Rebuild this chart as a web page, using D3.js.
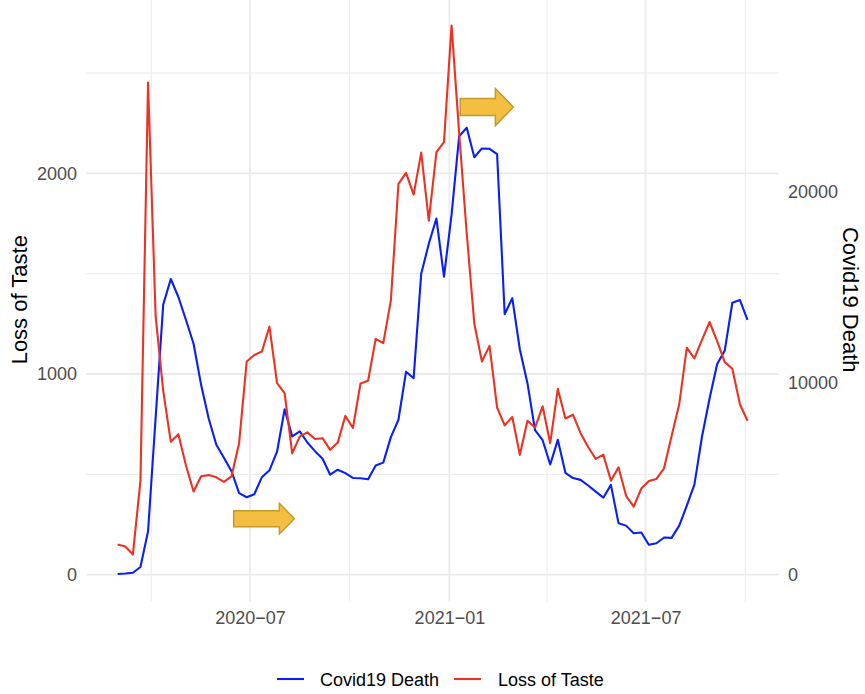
<!DOCTYPE html>
<html>
<head>
<meta charset="utf-8">
<script src="https://cdn.jsdelivr.net/npm/d3@7"></script>
<style>
  body { margin: 0; background: #fff; }
  text { font-family: "Liberation Sans", Arial, Helvetica, sans-serif; }
</style>
</head>
<body>
<script>
var width = 865, height = 694;

// weekly values, 2020-03-01 .. 2021-10-03
var lossOfTaste = [150, 140, 100, 467, 2452, 1288, 916, 662, 700, 544,
  414, 490, 496, 485, 462, 490, 655, 1062, 1095, 1112,
  1236, 955, 904, 604, 689, 709, 676, 680, 622, 658,
  791, 731, 953, 966, 1175, 1154, 1367, 1947, 2002, 1894,
  2103, 1764, 2105, 2156, 2737, 2200, 1700, 1250, 1062, 1140,
  833, 744, 786, 597, 767, 733, 839, 655, 926, 778,
  797, 705, 636, 577, 598, 468, 535, 393, 339, 429,
  467, 477, 530, 691, 849, 1131, 1078, 1170, 1259, 1164,
  1059, 1026, 849, 767];
var covidDeath = [30, 60, 100, 400, 2260, 8200, 14100, 15440, 14500, 13300,
  12060, 9900, 8140, 6780, 6100, 5400, 4260, 4040, 4200, 5090,
  5450, 6420, 8640, 7220, 7480, 6900, 6450, 6050, 5220, 5480,
  5300, 5050, 5035, 4980, 5700, 5850, 7180, 8090, 10600, 10260,
  15720, 17280, 18600, 15560, 18800, 22900, 23340, 21800, 22260, 22240,
  21960, 13600, 14440, 11760, 10000, 7545, 7020, 5750, 7040, 5320,
  5045, 4950, 4655, 4335, 4020, 4690, 2690, 2560, 2160, 2200,
  1560, 1640, 1940, 1920, 2560, 3600, 4700, 7200, 9200, 11000,
  11700, 14200, 14340, 13300];
var weeks = d3.utcWeek.range(new Date(Date.UTC(2020, 2, 1)), new Date(Date.UTC(2021, 9, 4)));

var tasteTicks = [0, 1000, 2000];
var tasteMinor = [500, 1500, 2500];
var deathTicks = [0, 10000, 20000];
var seriesNames = ["Covid19 Death", "Loss of Taste"];
var seriesColors = ["#0a1ff5", "#ea3323"];
var secFactor = 10.48;  // deaths per unit of taste on the secondary axis

// annotation arrows: start date, tip date, taste level
var arrowStarts = ["2020-06-16", "2021-01-11"];
var arrowTips = ["2020-08-11", "2021-03-01"];
var arrowLevels = [279, 2330];

var panel = {left: 86.2, right: 779, top: -2, bottom: 601.5};

var svg = d3.select("body").append("svg")
  .attr("width", width)
  .attr("height", height);

// x scale with 5% expansion like ggplot
var xExt = d3.extent(weeks);
var xPad = (xExt[1] - xExt[0]) * 0.05;
var x = d3.scaleUtc()
  .domain([new Date(+xExt[0] - xPad), new Date(+xExt[1] + xPad)])
  .range([panel.left, panel.right]);

var allVals = lossOfTaste.concat(covidDeath.map(function(d) { return d / secFactor; }));
var yExt = d3.extent(allVals);
var yPad = (yExt[1] - yExt[0]) * 0.05;
var y = d3.scaleLinear()
  .domain([yExt[0] - yPad, yExt[1] + yPad])
  .range([panel.bottom, panel.top]);
var yR = d3.scaleLinear()
  .domain(y.domain().map(function(v) { return v * secFactor; }))
  .range(y.range());

// gridlines: labelled breaks every 6 months, minor ones in between
var quarters = d3.utcMonth.every(3).range(x.domain()[0], x.domain()[1]);
var majorX = quarters.filter(function(d) { return d.getUTCMonth() % 6 === 0; });
var minorX = quarters.filter(function(d) { return d.getUTCMonth() % 6 !== 0; });

var grid = svg.append("g");
grid.selectAll(".hmin").data(tasteMinor).enter().append("line")
  .attr("x1", panel.left).attr("x2", panel.right)
  .attr("y1", y).attr("y2", y)
  .attr("stroke", "#ebebeb").attr("stroke-width", 1);
grid.selectAll(".vmin").data(minorX).enter().append("line")
  .attr("x1", x).attr("x2", x)
  .attr("y1", panel.top).attr("y2", panel.bottom)
  .attr("stroke", "#ebebeb").attr("stroke-width", 1);
grid.selectAll(".hmaj").data(tasteTicks).enter().append("line")
  .attr("x1", panel.left).attr("x2", panel.right)
  .attr("y1", y).attr("y2", y)
  .attr("stroke", "#ebebeb").attr("stroke-width", 1.8);
grid.selectAll(".vmaj").data(majorX).enter().append("line")
  .attr("x1", x).attr("x2", x)
  .attr("y1", panel.top).attr("y2", panel.bottom)
  .attr("stroke", "#ebebeb").attr("stroke-width", 1.8);

// axes
var fmt = d3.utcFormat("%Y\u2212%m");
var xAxis = svg.append("g")
  .attr("transform", "translate(0," + panel.bottom + ")")
  .call(d3.axisBottom(x).tickValues(majorX).tickFormat(fmt).tickSize(0).tickPadding(9.5));
var yAxis = svg.append("g")
  .attr("transform", "translate(" + panel.left + ",0)")
  .call(d3.axisLeft(y).tickValues(tasteTicks).tickFormat(d3.format("d")).tickSize(0).tickPadding(9.2));
var yAxisR = svg.append("g")
  .attr("transform", "translate(" + panel.right + ",0)")
  .call(d3.axisRight(yR).tickValues(deathTicks).tickFormat(d3.format("d")).tickSize(0).tickPadding(9));
[xAxis, yAxis, yAxisR].forEach(function(a) {
  a.select(".domain").remove();
  a.selectAll("text")
    .style("font-family", "'Liberation Sans', Arial, Helvetica, sans-serif")
    .style("font-size", "18px")
    .attr("fill", "#4d4d4d");
});

// lines
var line = d3.line()
  .x(function(d) { return x(d.date); })
  .y(function(d) { return y(d.value); });
var deathSeries = weeks.map(function(d, i) { return {date: d, value: covidDeath[i] / secFactor}; });
var tasteSeries = weeks.map(function(d, i) { return {date: d, value: lossOfTaste[i]}; });

[deathSeries, tasteSeries].forEach(function(s, i) {
  svg.append("path")
    .datum(s)
    .attr("d", line)
    .attr("fill", "none")
    .attr("stroke", seriesColors[i])
    .attr("stroke-width", 2.1)
    .attr("stroke-linejoin", "round")
    .attr("stroke-linecap", "butt");
});

// arrows
var parseDay = d3.utcParse("%Y-%m-%d");
var arrowBody = [8, 8.5], arrowHead = [15.3, 18.5], arrowHeadLen = [15, 18];
arrowStarts.forEach(function(s, i) {
  var x0 = x(parseDay(s)), x1 = x(parseDay(arrowTips[i])), yc = y(arrowLevels[i]);
  var xh = x1 - arrowHeadLen[i], b = arrowBody[i], h = arrowHead[i];
  var pts = [[x0, yc - b], [xh, yc - b], [xh, yc - h], [x1, yc], [xh, yc + h], [xh, yc + b], [x0, yc + b]];
  svg.append("path")
    .attr("d", "M" + pts.join("L") + "Z")
    .attr("fill", "#f4be41")
    .attr("stroke", "#c29a2e")
    .attr("stroke-width", 1.5)
    .attr("stroke-linejoin", "miter");
});

// axis titles
svg.append("text")
  .attr("transform", "translate(26.5," + ((panel.top + panel.bottom) / 2) + ") rotate(-90)")
  .attr("text-anchor", "middle")
  .style("font-size", "22px")
  .attr("fill", "#000")
  .text("Loss of Taste");
svg.append("text")
  .attr("transform", "translate(843," + ((panel.top + panel.bottom) / 2) + ") rotate(90)")
  .attr("text-anchor", "middle")
  .style("font-size", "22px")
  .attr("fill", "#000")
  .text("Covid19 Death");

// legend
var legendKeyX = [277, 454], legendTextX = [320, 498];
var legend = svg.append("g");
seriesNames.forEach(function(n, i) {
  legend.append("line")
    .attr("x1", legendKeyX[i]).attr("x2", legendKeyX[i] + 27)
    .attr("y1", 679).attr("y2", 679)
    .attr("stroke", seriesColors[i]).attr("stroke-width", 2.1);
  legend.append("text")
    .attr("x", legendTextX[i]).attr("y", 685.5)
    .style("font-size", "18px")
    .attr("fill", "#000")
    .text(n);
});
</script>
</body>
</html>
